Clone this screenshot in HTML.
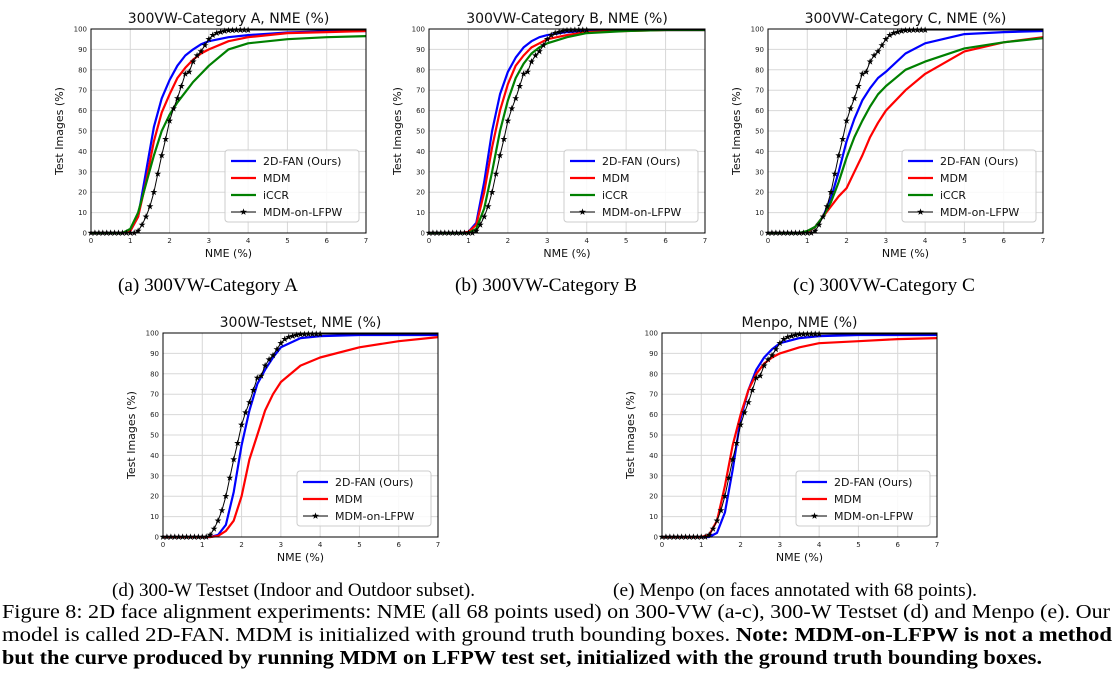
<!DOCTYPE html>
<html><head><meta charset="utf-8"><style>
body{margin:0;background:#fff;width:1116px;height:687px;overflow:hidden}
svg{display:block}
.cap{font-family:"Liberation Serif",serif;font-size:19px;fill:#000}
.fcap{font-family:"Liberation Serif",serif;font-size:20px;fill:#000}
.tick{font-family:"DejaVu Sans",sans-serif;font-size:7px;fill:#222}
.ttl{font-family:"DejaVu Sans",sans-serif;font-size:14px;fill:#111}
.lab{font-family:"DejaVu Sans",sans-serif;font-size:11px;fill:#111}
.leg{font-family:"DejaVu Sans",sans-serif;font-size:11px;fill:#111}
</style></head><body>
<svg id="fig" width="1116" height="687" xmlns="http://www.w3.org/2000/svg">
<text class="cap" x="118" y="291" textLength="180" lengthAdjust="spacingAndGlyphs">(a) 300VW-Category A</text>
<text class="cap" x="455" y="291" textLength="182" lengthAdjust="spacingAndGlyphs">(b) 300VW-Category B</text>
<text class="cap" x="793" y="291" textLength="182" lengthAdjust="spacingAndGlyphs">(c) 300VW-Category C</text>
<text class="cap" x="112" y="596" textLength="363" lengthAdjust="spacingAndGlyphs">(d) 300-W Testset (Indoor and Outdoor subset).</text>
<text class="cap" x="613" y="596" textLength="364" lengthAdjust="spacingAndGlyphs">(e) Menpo (on faces annotated with 68 points).</text>
<text class="fcap" x="2" y="618" textLength="1108" lengthAdjust="spacingAndGlyphs">Figure 8: 2D face alignment experiments: NME (all 68 points used) on 300-VW (a-c), 300-W Testset (d) and Menpo (e). Our</text>
<text class="fcap" x="2" y="641" textLength="1110" lengthAdjust="spacingAndGlyphs">model is called 2D-FAN. MDM is initialized with ground truth bounding boxes. <tspan font-weight="bold">Note: MDM-on-LFPW is not a method</tspan></text>
<text class="fcap" x="2" y="664" font-weight="bold" textLength="1040" lengthAdjust="spacingAndGlyphs">but the curve produced by running MDM on LFPW test set, initialized with the ground truth bounding boxes.</text>
</svg>
<script>
const xs=[0,0.8,1,1.2,1.4,1.6,1.8,2,2.2,2.4,2.6,2.8,3,3.5,4,5,6,7];
const lfpwX=[0,0.1,0.2,0.3,0.4,0.5,0.6,0.7,0.8,0.9,1,1.1,1.2,1.3,1.4,1.5,1.6,1.7,1.8,1.9,2,2.1,2.2,2.3,2.4,2.5,2.6,2.7,2.8,2.9,3,3.1,3.2,3.3,3.4,3.5,3.6,3.7,3.8,3.9,4];
const lfpwY=[0,0,0,0,0,0,0,0,0,0,0,0,1,4,8,13,20,29,38,46,55,61,66,72,78,79,84,87,89,92,95,97,98,98.5,99,99.3,99.4,99.5,99.5,99.5,99.5];
const aBlue=[0,0,1,8,30,52,66,75,82,87,90,92.5,94,96,97,98.3,98.8,99];
const aRed=[0,0,1,8,25,45,59,68,76,81,85,88,90,94,96,98,98.5,99];
const aGreen=[0,0,2,10,24,38,50,58,64,69,74,78,82,90,93,95,96,96.5];
const bBlue=[0,0,0.5,5,25,50,68,79,86,91,94,96,97,98.5,99,99.5,99.5,99.5];
const bRed=[0,0,0.5,4,20,42,60,73,82,87,91,93,95,97,98.5,99,99.5,99.5];
const bGreen=[0,0,0,2,12,30,50,65,76,83,88,91,93,96,98,99,99.5,99.5];
const cBlue=[0,0,0.5,3,8,17,30,45,56,65,71,76,79,88,93,97.5,98.5,99];
const cRed=[0,0,0.5,3,8,13,18,22,30,38,47,54,60,70,78,89,93.5,96];
const cGreen=[0,0,1,3,8,15,25,37,47,55,62,68,72,80,84,90.5,93.5,95.5];
const dBlue=[0,0,0,0,1,6,22,45,62,75,82,88,93,97.5,98.5,99,99,99];
const dRed=[0,0,0,0,0.5,3,8,20,38,50,62,70,76,84,88,93,96,98];
const eBlue=[0,0,0,0,2,12,33,58,72,82,88,92,95,97.5,98.5,99,99,99];
const eRed=[0,0,0,1,8,25,45,60,72,80,85,88,90,93,95,96,97,97.5];
const xTicks=[0,1,2,3,4,5,6,7];
const yTicks=[0,10,20,30,40,50,60,70,80,90,100];
const legendNames=["2D-FAN (Ours)","MDM","iCCR","MDM-on-LFPW"];
const NS="http://www.w3.org/2000/svg";
const fig=document.getElementById('fig');
function mk(t,a,p){const e=document.createElementNS(NS,t);for(const k in a)e.setAttribute(k,a[k]);(p||fig).appendChild(e);return e;}
function star(cx,cy,r){let s="";for(let i=0;i<10;i++){const rr=i%2?r*0.4:r;const a=-Math.PI/2+i*Math.PI/5;s+=(i?"L":"M")+(cx+rr*Math.cos(a)).toFixed(1)+","+(cy+rr*Math.sin(a)).toFixed(1);}return s+"Z";}
function chart(id,L,T,R,B,title,series){
  const g=mk('g',{});
  
  
  const sx=v=>L+(R-L)*v/7, sy=v=>B-(B-T)*v/100;
  for(const v of xTicks){const l=mk('line',{x1:sx(v),x2:sx(v),y1:T,y2:B,stroke:'#d8d8d8','stroke-width':1},g);
    
    const t=mk('text',{x:sx(v),y:B+10,'text-anchor':'middle',class:'tick'},g);t.textContent=v;
    }
  for(const v of yTicks){const l=mk('line',{x1:L,x2:R,y1:sy(v),y2:sy(v),stroke:'#d8d8d8','stroke-width':1},g);
    
    const t=mk('text',{x:L-4,y:sy(v)+2.5,'text-anchor':'end',class:'tick'},g);t.textContent=v;
    }
  for(const s of series){
    let d="";
    if(s.lfpw){lfpwX.forEach((x,i)=>{d+=(i?"L":"M")+sx(x).toFixed(1)+","+sy(lfpwY[i]).toFixed(1);});d+="L"+sx(7)+","+sy(lfpwY[lfpwY.length-1]);}
    else s.y.forEach((v,i)=>{d+=(i?"L":"M")+sx(xs[i]).toFixed(1)+","+sy(v).toFixed(1);});
    const p=mk('path',{d:d,fill:'none',stroke:s.c,'stroke-width':s.lfpw?1:2.2,'stroke-linejoin':'round'},g);
    
    if(s.lfpw){let sd="";lfpwX.forEach((x,i)=>{sd+=star(sx(x),sy(lfpwY[i]),3.6);});
      const st=mk('path',{d:sd,fill:'#000'},g);}
  }
  const fr=mk('rect',{x:L,y:T,width:R-L,height:B-T,fill:'none',stroke:'#000','stroke-width':1},g);
  
  const tt=mk('text',{x:(L+R)/2,y:T-6,'text-anchor':'middle',class:'ttl'},g);tt.textContent=title;
  
  const xl=mk('text',{x:(L+R)/2,y:B+24,'text-anchor':'middle',class:'lab'},g);xl.textContent='NME (%)';
  
  const yx=L-28,yy=(T+B)/2;
  const yl=mk('text',{x:yx,y:yy,'text-anchor':'middle',class:'lab',transform:'rotate(-90 '+yx+' '+yy+')'},g);yl.textContent='Test Images (%)';
  
  const n=series.length,lw=134,lh=n*17+4,lx=R-lw-7,ly=B-11-lh;
  const lg=mk('g',{},g);
  mk('rect',{x:lx,y:ly,width:lw,height:lh,fill:'#fff','fill-opacity':0.85,stroke:'#ccc',rx:3},lg);
  series.forEach((s,i)=>{const y=ly+11+i*17;
    const e=mk('g',{},lg);
    mk('line',{x1:lx+6,x2:lx+31,y1:y,y2:y,stroke:s.c,'stroke-width':s.lfpw?1:2.2},e);
    if(s.lfpw)mk('path',{d:star(lx+18.5,y,3.6),fill:'#000'},e);
    const t=mk('text',{x:lx+38,y:y+4,class:'leg'},e);t.textContent=s.label;});
}
const B_='#0000ff',R_='#ff0000',G_='#008000';
chart('a',91,29,366,233,'300VW-Category A, NME (%)',[{n:'2d-fan',label:legendNames[0],c:B_,y:aBlue},{n:'mdm',label:legendNames[1],c:R_,y:aRed},{n:'iccr',label:legendNames[2],c:G_,y:aGreen},{n:'mdm-on-lfpw',label:legendNames[3],c:'#000',lfpw:true}]);
chart('b',429,29,705,233,'300VW-Category B, NME (%)',[{n:'2d-fan',label:legendNames[0],c:B_,y:bBlue},{n:'mdm',label:legendNames[1],c:R_,y:bRed},{n:'iccr',label:legendNames[2],c:G_,y:bGreen},{n:'mdm-on-lfpw',label:legendNames[3],c:'#000',lfpw:true}]);
chart('c',768,29,1043,233,'300VW-Category C, NME (%)',[{n:'2d-fan',label:legendNames[0],c:B_,y:cBlue},{n:'mdm',label:legendNames[1],c:R_,y:cRed},{n:'iccr',label:legendNames[2],c:G_,y:cGreen},{n:'mdm-on-lfpw',label:legendNames[3],c:'#000',lfpw:true}]);
chart('d',163,333,438,537,'300W-Testset, NME (%)',[{n:'2d-fan',label:legendNames[0],c:B_,y:dBlue},{n:'mdm',label:legendNames[1],c:R_,y:dRed},{n:'mdm-on-lfpw',label:legendNames[3],c:'#000',lfpw:true}]);
chart('e',662,333,937,537,'Menpo, NME (%)',[{n:'2d-fan',label:legendNames[0],c:B_,y:eBlue},{n:'mdm',label:legendNames[1],c:R_,y:eRed},{n:'mdm-on-lfpw',label:legendNames[3],c:'#000',lfpw:true}]);
</script>
</body></html>
